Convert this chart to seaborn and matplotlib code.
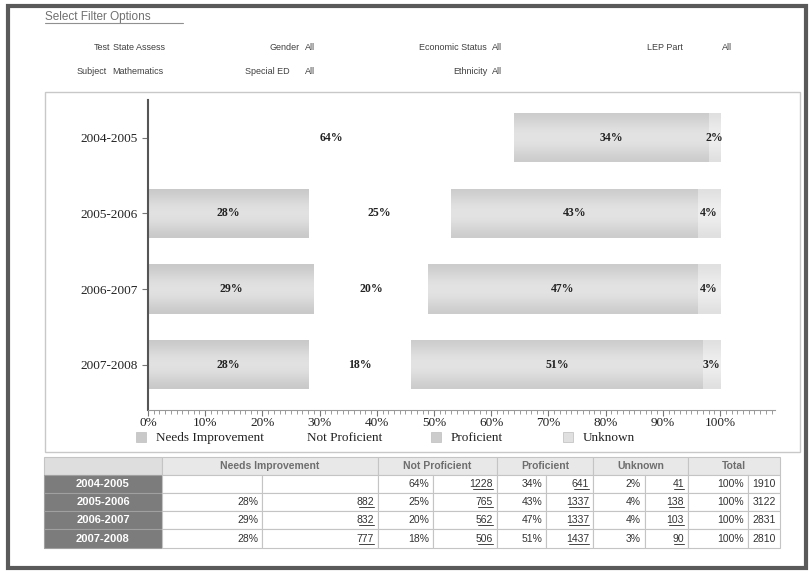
import matplotlib
matplotlib.use("Agg")
import matplotlib.pyplot as plt
import seaborn as sns
import pandas as pd
import numpy as np
from matplotlib.patches import Patch, Rectangle
from matplotlib.lines import Line2D

# ---------------- data ----------------
years = ["2004-2005", "2005-2006", "2006-2007", "2007-2008"]
categories = ["Needs Improvement", "Not Proficient", "Proficient", "Unknown"]
needs_improvement = [0, 28, 29, 28]
not_proficient = [64, 25, 20, 18]
proficient = [34, 43, 47, 51]
unknown = [2, 4, 4, 3]

ni_counts = [None, 882, 832, 777]
np_counts = [1228, 765, 562, 506]
p_counts = [641, 1337, 1337, 1437]
u_counts = [41, 138, 103, 90]
total_pct = [100, 100, 100, 100]
total_counts = [1910, 3122, 2831, 2810]

x_ticks = [0, 10, 20, 30, 40, 50, 60, 70, 80, 90, 100]
x_ticklabels = [f"{t}%" for t in x_ticks]

filter_row1 = [("Test", "State Assess"), ("Gender", "All"), ("Economic Status", "All"), ("LEP Part", "All")]
filter_row2 = [("Subject", "Mathematics"), ("Special ED", "All"), ("Ethnicity", "All")]

colors = {"Needs Improvement": "#c9c9c9", "Not Proficient": "#ffffff",
          "Proficient": "#cccccc", "Unknown": "#e0e0e0"}

W, H = 810, 571
sns.set_theme(style="white")
plt.rcParams["font.family"] = ["Liberation Serif", "DejaVu Serif"]

fig = plt.figure(figsize=(W / 100, H / 100), dpi=100)

# ---------- background / frame (pixel coordinates) ----------
bg = fig.add_axes([0, 0, 1, 1])
bg.set_xlim(0, W)
bg.set_ylim(H, 0)
bg.axis("off")
bg.add_patch(Rectangle((8, 6), 798, 562, facecolor="white", edgecolor="#5a5a5a", linewidth=3))
bg.add_patch(Rectangle((45, 92), 755, 360, facecolor="white", edgecolor="#c8c8c8", linewidth=1))

sans = ["Liberation Sans", "DejaVu Sans"]
bg.text(45, 17, "Select Filter Options", fontsize=8.5, color="#707070", family=sans, va="center")
bg.add_line(Line2D([45, 183], [23, 23], color="#909090", linewidth=0.8))

row1_x = [(110, 113), (300, 305), (487, 492), (683, 722)]
for (lab, val), (xl, xv) in zip(filter_row1, row1_x):
    bg.text(xl, 48, lab, fontsize=6.5, color="#404040", family=sans, ha="right", va="center")
    bg.text(xv, 48, val, fontsize=6.5, color="#404040", family=sans, ha="left", va="center")
row2_x = [(107, 112), (290, 305), (487, 492)]
for (lab, val), (xl, xv) in zip(filter_row2, row2_x):
    bg.text(xl, 72, lab, fontsize=6.5, color="#404040", family=sans, ha="right", va="center")
    bg.text(xv, 72, val, fontsize=6.5, color="#404040", family=sans, ha="left", va="center")

# ---------------- chart ----------------
ax = fig.add_axes([148 / W, 1 - 410 / H, (775 - 148) / W, (410 - 100) / H])
ax.set_facecolor("none")

df = pd.DataFrame({"year": years, "Needs Improvement": needs_improvement,
                   "Not Proficient": not_proficient, "Proficient": proficient,
                   "Unknown": unknown})
cum = df[categories].cumsum(axis=1)
for cat in reversed(categories):
    sns.barplot(x=cum[cat], y=df["year"], orient="h", color=colors[cat],
                saturation=1, width=0.65, linewidth=0, errorbar=None, ax=ax)

# soft vertical gradient on the grey bars, like the reference rendering
t = np.linspace(0, 1, 64)[:, None]
prof = 0.45 * np.sin(np.pi * t) ** 1.5
for k, p in enumerate(list(ax.patches)):
    z = 1 + 0.02 * k
    p.set_zorder(z)
    fc = np.array(p.get_facecolor()[:3])
    if fc.min() > 0.99 or p.get_width() <= 0:
        continue
    img = fc[None, None, :] + (1 - fc[None, None, :]) * prof[:, :, None]
    img = np.repeat(img, 2, axis=1)
    x, y, w, h = p.get_x(), p.get_y(), p.get_width(), p.get_height()
    im = ax.imshow(img, extent=[x, x + w, y + h, y], aspect="auto",
                   interpolation="bilinear", zorder=z + 0.01)
    im.set_clip_path(p)

for i in range(len(years)):
    left = 0
    for cat in categories:
        v = df.loc[i, cat]
        if v > 0:
            ax.text(left + v / 2, i, f"{v}%", ha="center", va="center",
                    fontsize=8.5, fontweight="bold", color="#222222", zorder=5)
        left += v

ax.set_xlim(0, 109.6)
ax.set_ylim(3.6, -0.5)
ax.set_aspect("auto")
ax.set_xticks(x_ticks)
ax.set_xticklabels(x_ticklabels, fontsize=9.5, color="#222222")
ax.set_xticks(range(0, 110, 1), minor=True)
ax.tick_params(axis="x", which="major", direction="out", length=4, width=0.8, color="#777777", pad=1, bottom=True)
ax.tick_params(axis="x", which="minor", direction="out", length=3, width=0.7, color="#999999", bottom=True)
ax.tick_params(axis="y", which="major", direction="out", length=4, width=0.8, color="#777777", left=True, labelsize=9.5, labelcolor="#222222")
ax.set_xlabel("")
ax.set_ylabel("")
for s in ["top", "right"]:
    ax.spines[s].set_visible(False)
ax.spines["left"].set_color("#555555")
ax.spines["left"].set_linewidth(1.5)
ax.spines["bottom"].set_color("#999999")
ax.spines["bottom"].set_linewidth(0.8)

# legend (one entry each, placed like the reference)
leg_x = [128, 279, 423, 555]
for cat, lx in zip(categories, leg_x):
    ec = "#c4c4c4" if cat != "Not Proficient" else "white"
    h = Patch(facecolor=colors[cat], edgecolor=ec, linewidth=0.6)
    lg = fig.legend(handles=[h], labels=[cat], loc="center left",
                    bbox_to_anchor=(lx / W, 1 - 438 / H), frameon=False,
                    fontsize=9.5, handlelength=0.8, handleheight=0.8,
                    handletextpad=0.7, borderpad=0.1)
    for tx in lg.get_texts():
        tx.set_color("#222222")

# ---------------- table ----------------
tab = fig.add_axes([0, 0, 1, 1])
tab.set_xlim(0, W)
tab.set_ylim(H, 0)
tab.axis("off")
col_edges = [44, 162, 262, 378, 433, 497, 546, 593, 645, 688, 748, 780]
row_edges = [457, 475, 493, 511, 529, 548]
grid = "#c4c4c4"

tab.add_patch(Rectangle((col_edges[0], row_edges[0]), col_edges[1] - col_edges[0],
                        row_edges[1] - row_edges[0], facecolor="#dedede", edgecolor=grid, linewidth=0.8))
group_names = ["Needs Improvement", "Not Proficient", "Proficient", "Unknown", "Total"]
for g, name in enumerate(group_names):
    x0 = col_edges[1 + 2 * g]
    x1 = col_edges[3 + 2 * g]
    tab.add_patch(Rectangle((x0, row_edges[0]), x1 - x0, row_edges[1] - row_edges[0],
                            facecolor="#e8e8e8", edgecolor=grid, linewidth=0.8))
    tab.text((x0 + x1) / 2, (row_edges[0] + row_edges[1]) / 2, name, ha="center", va="center",
             fontsize=7.5, fontweight="bold", color="#6e6e6e", family=sans)

pct_cols = [needs_improvement, not_proficient, proficient, unknown, total_pct]
cnt_cols = [ni_counts, np_counts, p_counts, u_counts, total_counts]
for r, yr in enumerate(years):
    y0, y1 = row_edges[r + 1], row_edges[r + 2]
    yc = (y0 + y1) / 2
    tab.add_patch(Rectangle((col_edges[0], y0), col_edges[1] - col_edges[0], y1 - y0,
                            facecolor="#7c7c7c", edgecolor="#a0a0a0", linewidth=0.8))
    tab.text((col_edges[0] + col_edges[1]) / 2, yc, yr, ha="center", va="center",
             fontsize=8, fontweight="bold", color="white", family=sans)
    for g in range(5):
        xa, xb, xc = col_edges[1 + 2 * g], col_edges[2 + 2 * g], col_edges[3 + 2 * g]
        tab.add_patch(Rectangle((xa, y0), xb - xa, y1 - y0, facecolor="white", edgecolor=grid, linewidth=0.8))
        tab.add_patch(Rectangle((xb, y0), xc - xb, y1 - y0, facecolor="white", edgecolor=grid, linewidth=0.8))
        cnt = cnt_cols[g][r]
        if cnt is None:
            continue
        tab.text(xb - 4, yc, f"{pct_cols[g][r]}%", ha="right", va="center",
                 fontsize=7.5, color="#333333", family=sans)
        tab.text(xc - 4, yc, f"{cnt}", ha="right", va="center",
                 fontsize=7.5, color="#333333", family=sans)
        if g < 4:
            wpx = 5.0 * len(str(cnt))
            tab.add_line(Line2D([xc - 4 - wpx, xc - 4], [yc + 5, yc + 5], color="#444444", linewidth=0.7))

fig.savefig("out.png", dpi=100)
